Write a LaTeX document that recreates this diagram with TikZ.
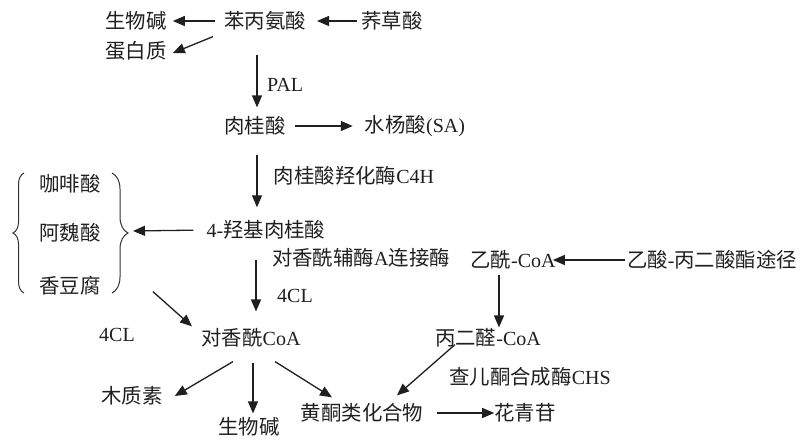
\documentclass[tikz,border=0pt]{standalone}
\usepackage{fontspec}
\setmainfont{Liberation Serif}
\newfontfamily\cjk[Scale=1.02]{Noto Sans CJK SC}
\usetikzlibrary{arrows.meta,decorations.pathreplacing}
\begin{document}
\begin{tikzpicture}[x=1pt,y=-1pt,
  txt/.style={inner sep=0pt,anchor=center,text=black!88,font=\fontsize{20}{24}\selectfont},
  arr/.style={line width=1.3pt,draw=black!88,-{Triangle[length=12pt,width=10pt]}},
  brc/.style={line width=1pt,draw=black!80,decorate}]
\useasboundingbox (0,0) rectangle (802,441);
% nodes
\node[txt] (alk1) at (136,21) {\cjk 生物碱};
\node[txt] (phe)  at (265,21) {\cjk 苯丙氨酸};
\node[txt] (qcs)  at (392,21) {\cjk 荞草酸};
\node[txt] (prot) at (136,51) {\cjk 蛋白质};
\node[txt] (pal)  at (285,85) {PAL};
\node[txt] (cin)  at (255,126) {\cjk 肉桂酸};
\node[txt] (sa)   at (415,126) {{\cjk 水杨酸}(SA)};
\node[txt] (c4h)  at (354,176) {{\cjk 肉桂酸羟化酶}C4H};
\node[txt] (hca)  at (266,230) {4-{\cjk 羟基肉桂酸}};
\node[txt] (caf)  at (70,184) {\cjk 咖啡酸};
\node[txt] (fer)  at (70,233) {\cjk 阿魏酸};
\node[txt] (cou)  at (70,286) {\cjk 香豆腐};
\node[txt] (lig4) at (361,258) {{\cjk 对香酰辅酶}A{\cjk 连接酶}};
\node[txt] (cl4)  at (295,296) {4CL};
\node[txt] (acoa) at (513,260) {{\cjk 乙酰}-CoA};
\node[txt] (path) at (712,260) {{\cjk 乙酸}-{\cjk 丙二酸酯途径}};
\node[txt] (mcoa) at (488,338) {{\cjk 丙二醛}-CoA};
\node[txt] (cl4b) at (117,335) {4CL};
\node[txt] (pcoa) at (251,338) {{\cjk 对香酰}CoA};
\node[txt] (chs)  at (530,377) {{\cjk 查儿酮合成酶}CHS};
\node[txt] (lig)  at (132,396) {\cjk 木质素};
\node[txt] (alk2) at (249,427) {\cjk 生物碱};
\node[txt] (flav) at (362,413) {\cjk 黄酮类化合物};
\node[txt] (anth) at (525,413) {\cjk 花青苷};
% braces
\draw[brc,decoration={brace,amplitude=11pt}] (24,293) -- (24,173);
\draw[brc,decoration={brace,amplitude=16pt}] (112,173) -- (112,293);
\coordinate (brtip) at (130,231);
% arrows
\draw[arr,shorten <=9pt,shorten >=6pt] (phe.west) -- (alk1.east);
\draw[arr,shorten <=4pt,shorten >=11pt] (qcs.west) -- (phe.east);
\draw[arr] ([xshift=-11pt,yshift=-6pt]phe.south west) -- ([xshift=6pt,yshift=-2pt]prot.east);
\draw[arr,shorten <=24pt,shorten >=9pt] ([xshift=-8pt]phe.south) -- ([xshift=2pt]cin.north);
\draw[arr,shorten <=9pt,shorten >=12pt] (cin.east) -- (sa.west);
\draw[arr,shorten <=19pt,shorten >=13pt] ([xshift=2pt]cin.south) -- ([xshift=-9pt]hca.north);
\draw[arr,shorten <=13pt,shorten >=3pt] (hca.west) -- (brtip);
\draw[arr,shorten <=20pt,shorten >=17pt] ([xshift=-10pt]hca.south) -- ([xshift=5pt]pcoa.north);
\draw[arr,shorten <=2pt,shorten >=-3pt] (path.west) -- (acoa.east);
\draw[arr,shorten <=5pt,shorten >=1pt] ([xshift=-14pt]acoa.south) -- ([xshift=11pt]mcoa.north);
\draw[arr] ([xshift=-33pt,yshift=3pt]mcoa.south) -- ([xshift=35pt,yshift=8pt]flav.north);
\draw[arr,shorten <=14pt] (flav.east) -- (anth.west);
\draw[arr] ([xshift=83pt,yshift=4pt]cou.south) -- ([xshift=-59pt,yshift=2pt]pcoa.north);
\draw[arr] ([xshift=-18pt,yshift=-14pt]pcoa.south) -- ([xshift=12pt]lig.east);
\draw[arr,shorten <=15pt,shorten >=4pt] ([xshift=2pt]pcoa.south) -- ([xshift=4pt]alk2.north);
\draw[arr] ([xshift=24pt,yshift=-14pt]pcoa.south) -- ([xshift=-30pt,yshift=6pt]flav.north);
\end{tikzpicture}
\end{document}
